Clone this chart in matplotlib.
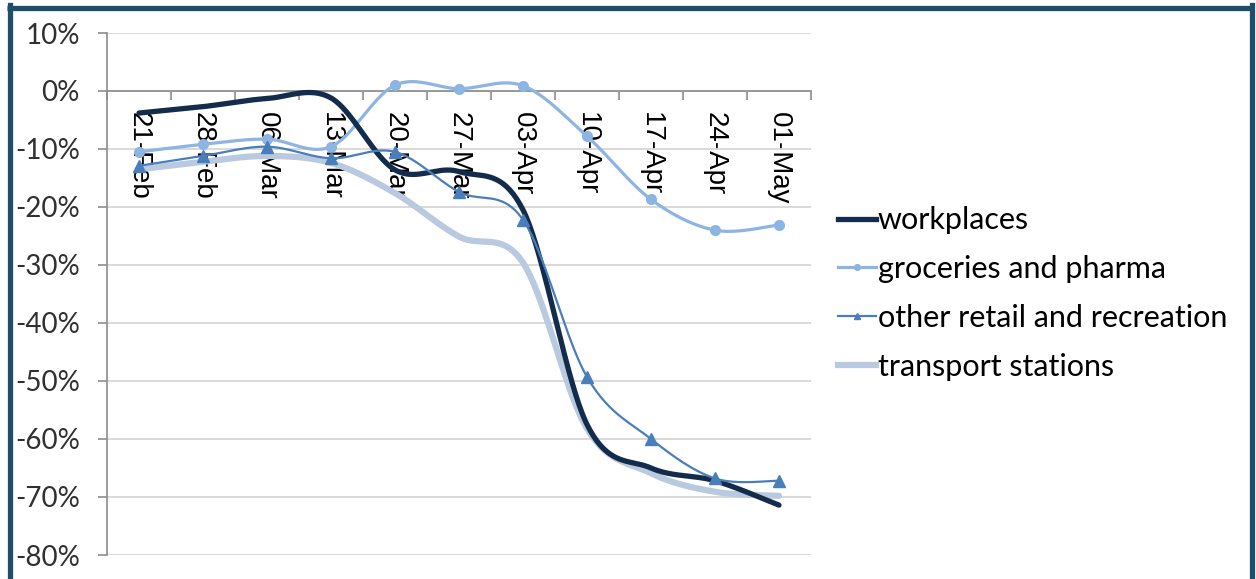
import numpy as np
import matplotlib
matplotlib.use("Agg")
import matplotlib.pyplot as plt
from matplotlib.lines import Line2D
from matplotlib.ticker import FixedLocator

weeks = ["21-Feb", "28-Feb", "06-Mar", "13-Mar", "20-Mar", "27-Mar",
         "03-Apr", "10-Apr", "17-Apr", "24-Apr", "01-May"]
pct_ticks = list(range(-80, 11, 10))

# mobility change vs baseline, %
workplaces = [-3.8, -2.7, -1.3, -1.2, -13.6, -13.9, -20.5, -57.5, -65.0, -67.2, -71.4]
groceries = [-10.5, -9.2, -8.3, -9.6, 1.0, 0.4, 0.9, -7.8, -18.7, -24.0, -23.1]
other_retail = [-12.9, -11.2, -9.6, -11.6, -10.5, -17.4, -22.2, -49.3, -60.0, -66.8, -67.2]
transport = [-13.5, -12.2, -11.2, -12.4, -17.6, -25.1, -29.6, -58.2, -65.9, -69.1, -69.8]

series = [
    ("workplaces", workplaces, dict(color="#142c4c", lw=3.8, zorder=4)),
    ("groceries and pharma", groceries, dict(color="#8db4e2", lw=2.3, marker="o", ms=7, zorder=3)),
    ("other retail and recreation", other_retail, dict(color="#4a7ebb", lw=1.6, marker="^", ms=8, zorder=5)),
    ("transport stations", transport, dict(color="#b9c9e0", lw=4.5, zorder=2)),
]


def smooth(y, n=40):
    # bezier smoothing like a spreadsheet "smoothed line"
    y = np.asarray(y, float)
    x = np.arange(len(y), dtype=float)
    px = np.concatenate([[x[0]], x, [x[-1]]])
    py = np.concatenate([[y[0]], y, [y[-1]]])
    xs, ys = [], []
    t = np.linspace(0, 1, n)
    for i in range(len(y) - 1):
        p0 = np.array([px[i + 1], py[i + 1]])
        p3 = np.array([px[i + 2], py[i + 2]])
        c1 = p0 + (np.array([px[i + 2], py[i + 2]]) - np.array([px[i], py[i]])) / 6
        c2 = p3 - (np.array([px[i + 3], py[i + 3]]) - np.array([px[i + 1], py[i + 1]])) / 6
        b = ((1 - t) ** 3)[:, None] * p0 + (3 * (1 - t) ** 2 * t)[:, None] * c1 \
            + (3 * (1 - t) * t ** 2)[:, None] * c2 + (t ** 3)[:, None] * p3
        xs.append(b[:, 0])
        ys.append(b[:, 1])
    return np.concatenate(xs), np.concatenate(ys)


fig = plt.figure(figsize=(12.56, 5.79), dpi=100)
ax = fig.add_axes([107 / 1256, 1 - 555 / 579, (811 - 107) / 1256, (555 - 33) / 579])

x = np.arange(len(weeks))
handles = []
for name, vals, st in series:
    sx, sy = smooth(vals)
    ax.plot(sx, sy, color=st["color"], lw=st["lw"], solid_capstyle="round",
            zorder=st["zorder"])
    if "marker" in st:
        ax.plot(x, vals, ls="none", marker=st["marker"], ms=st["ms"],
                color=st["color"], zorder=st["zorder"])
    handles.append(Line2D([], [], color=st["color"], lw=st["lw"],
                          marker=st.get("marker"), ms=st.get("ms", 0) * 0.6))

ax.set_xlim(-0.5, len(weeks) - 0.5)
ax.set_ylim(-80, 10)
ax.set_yticks(pct_ticks, [f"{v}%" for v in pct_ticks], fontsize=20,
              fontfamily="Lato", color="#303030")
ax.grid(axis="y", color="#d9d9d9", lw=1.4)
ax.set_axisbelow(True)

for s in ["top", "right"]:
    ax.spines[s].set_visible(False)
ax.spines["bottom"].set_position(("data", 0))
ax.spines["bottom"].set_zorder(1)
for s in ["left", "bottom"]:
    ax.spines[s].set_color("#8c8c8c")
    ax.spines[s].set_linewidth(1.2)

ax.xaxis.set_major_locator(FixedLocator(np.arange(-0.5, len(weeks), 1.0)))
ax.xaxis.set_major_formatter(plt.NullFormatter())
ax.set_xticks(x, weeks, minor=True, fontsize=20, fontfamily="Liberation Sans",
              rotation=270, va="top", ha="center")
ax.tick_params(axis="x", which="major", direction="out", length=6.5,
               color="#8c8c8c", width=1.2)
ax.tick_params(axis="x", which="minor", length=0, pad=15)
ax.tick_params(axis="y", direction="out", length=6.5, color="#8c8c8c",
               width=1.2, pad=13)

leg = fig.legend(handles, [s[0] for s in series], loc="upper left",
                 bbox_to_anchor=(826 / 1256, 1 - 194 / 579), frameon=False,
                 prop={"family": "Lato", "size": 22}, handlelength=1.25,
                 handletextpad=0.05, labelspacing=0.68, borderaxespad=0)

# frame around the chart area
bc = "#1f4e6b"
fig.add_artist(Line2D([9.5 / 1256, 9.5 / 1256], [0, 1 - 5 / 579], color=bc, lw=3.8,
                      transform=fig.transFigure, solid_capstyle="projecting"))
fig.add_artist(Line2D([1251.5 / 1256, 1251.5 / 1256], [0, 1 - 5 / 579], color=bc, lw=3.8,
                      transform=fig.transFigure, solid_capstyle="projecting"))
fig.add_artist(Line2D([7 / 1256, 1254 / 1256], [1 - 7.5 / 579, 1 - 7.5 / 579], color=bc,
                      lw=3.8, transform=fig.transFigure, solid_capstyle="butt"))

fig.savefig("out.png", dpi=100)
